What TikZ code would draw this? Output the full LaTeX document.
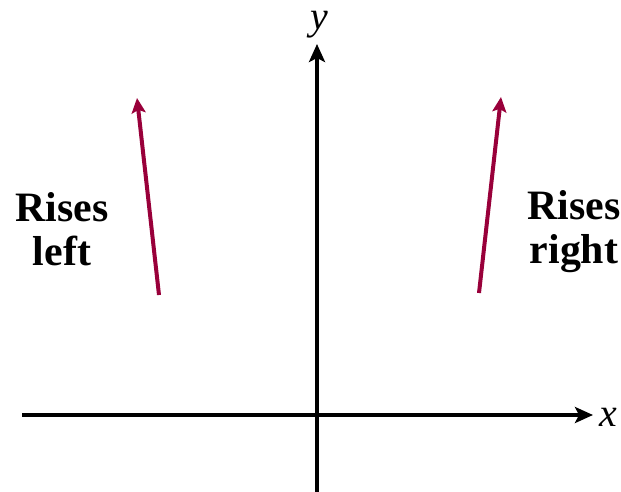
\documentclass[tikz,border=0pt]{standalone}
\usepackage{fontspec}
\setmainfont{Liberation Serif}
\usetikzlibrary{arrows.meta, positioning}
\definecolor{risecrimson}{RGB}{153, 0, 58}

\begin{document}
\begin{tikzpicture}[
    x=1bp, y=-1bp,
    axis/.style={line width=3.5bp, -{Stealth[length=18bp, width=16bp, inset=4bp]}},
    rise arrow/.style={line width=4bp, risecrimson, -{Stealth[length=15bp, width=14bp, inset=3bp]}},
    rise label/.style={font=\fontsize{42}{44}\selectfont\bfseries, align=center, inner sep=0pt},
    axis label/.style={font=\fontsize{40}{40}\selectfont\itshape, inner sep=0pt, anchor=base west}
]
\useasboundingbox (0,0) rectangle (621,492);

% Axes
\coordinate (xstart) at (22,415);
\coordinate (xend) at (593,415);
\coordinate (ystart) at (317,492);
\coordinate (yend) at (317,44);
\draw[axis] (xstart) -- (xend);
\draw[axis] (ystart) -- (yend);
\node[axis label] (xlabel) at (599,426) {x};
\node[axis label] (ylabel) at (310,30) {y};

% Rising arrows
\coordinate (lefttail) at (159,295);
\coordinate (lefthead) at (137,98);
\coordinate (righttail) at (479,293);
\coordinate (righthead) at (501,97);
\draw[rise arrow] (lefttail) -- (lefthead);
\draw[rise arrow] (righttail) -- (righthead);

% Labels
\node[rise label] (leftlabel) at (62,229) {Rises\\left};
\node[rise label] (rightlabel) at (574,232) {Rises\\right};

\end{tikzpicture}
\end{document}
